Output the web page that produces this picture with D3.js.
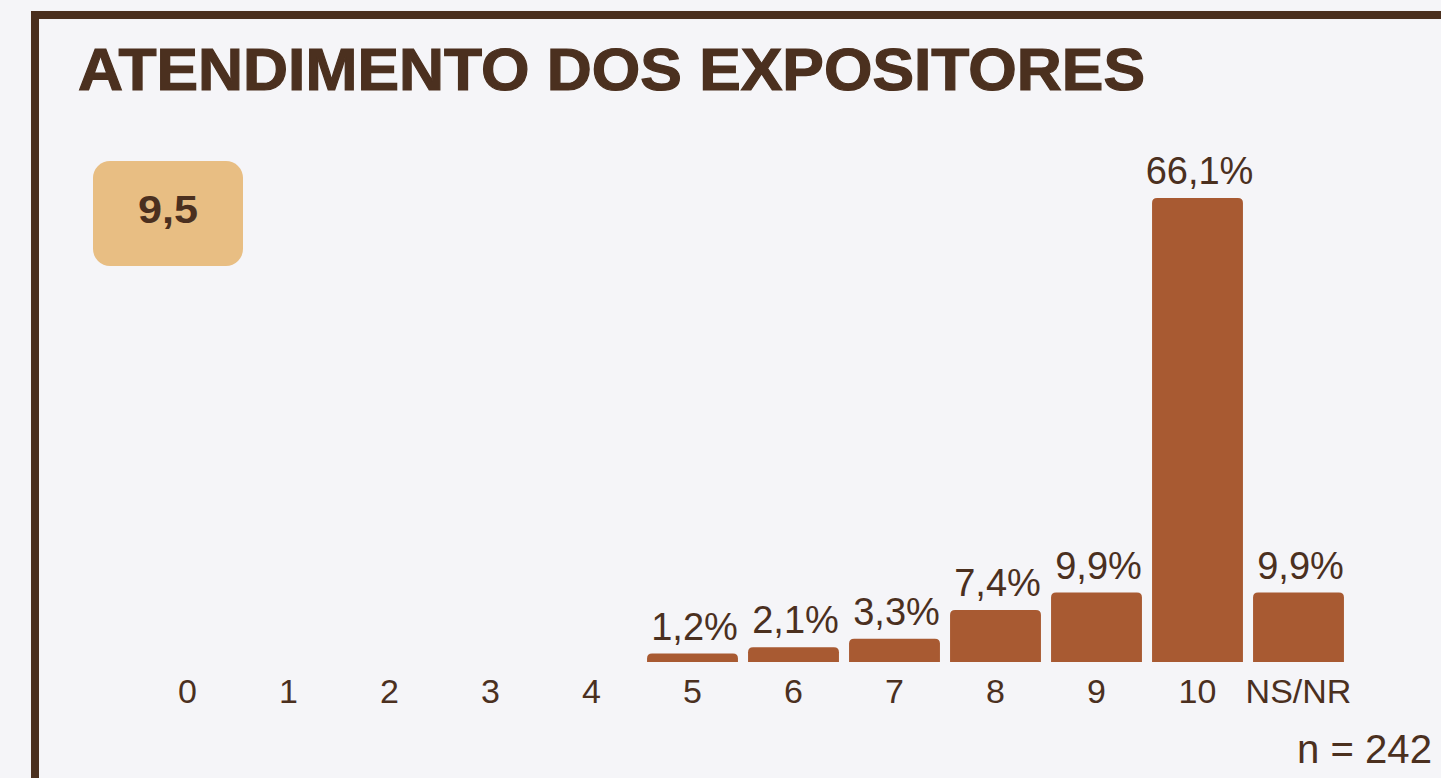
<!DOCTYPE html>
<html><head><meta charset="utf-8">
<script src="https://cdn.jsdelivr.net/npm/d3@7"></script>
<style>
html,body{margin:0;padding:0;background:#f5f5f8;overflow:hidden;}
svg{display:block;}
text{font-family:"Liberation Sans",Arial,sans-serif;fill:#4b301f;}
</style></head>
<body>
<svg id="c" width="1441" height="778"></svg>
<script>
const categories = ["0","1","2","3","4","5","6","7","8","9","10","NS/NR"];
const values = [null,null,null,null,null,1.2,2.1,3.3,7.4,9.9,66.1,9.9];
const valueLabels = [null,null,null,null,null,"1,2%","2,1%","3,3%","7,4%","9,9%","66,1%","9,9%"];
const title = "ATENDIMENTO DOS EXPOSITORES";
const average = "9,5";
const sampleNote = "n = 242";

const svg = d3.select("#c");
const W = 1441, H = 778;
const textColor = "#4b301f";
const barColor = "#a85a32";

svg.append("rect").attr("width",W).attr("height",H).attr("fill","#f5f5f8");
// frame
svg.append("rect").attr("x",35).attr("y",15).attr("width",1500).attr("height",900)
  .attr("fill","none").attr("stroke","#4b301f").attr("stroke-width",8);

svg.append("text").attr("x",78).attr("y",90).attr("font-size",60).attr("font-weight","bold")
  .attr("stroke","#4b301f").attr("stroke-width",1.2)
  .attr("textLength",1067).attr("lengthAdjust","spacingAndGlyphs").text(title);

// badge
svg.append("rect").attr("x",93).attr("y",161).attr("width",150).attr("height",105)
  .attr("rx",17).attr("fill","#e8be83");
svg.append("text").attr("x",168).attr("y",223).attr("text-anchor","middle")
  .attr("font-size",39).attr("font-weight","bold").attr("textLength",60)
  .attr("lengthAdjust","spacingAndGlyphs").text(average);

const x = d3.scaleBand().domain(categories).range([137,1349]).paddingInner(0.1).paddingOuter(0.05);
const y = d3.scaleLinear().domain([0,66.1]).range([662,198]);

const data = categories.map((c,i)=>({c, v:values[i], l:valueLabels[i]}));
const r = 5;
svg.append("g").selectAll("path").data(data.filter(d=>d.v!=null)).join("path")
  .attr("fill",barColor)
  .attr("d",d=>{
    const x0 = x(d.c), w = x.bandwidth(), y0 = y(d.v), b = y(0);
    const rr = Math.min(r,(b-y0));
    return `M${x0},${b}V${y0+rr}Q${x0},${y0} ${x0+rr},${y0}H${x0+w-rr}Q${x0+w},${y0} ${x0+w},${y0+rr}V${b}Z`;
  });

svg.append("g").selectAll("text").data(data.filter(d=>d.v!=null)).join("text")
  .attr("x",d=>x(d.c)+x.bandwidth()/2+2).attr("y",d=>y(d.v)-14)
  .attr("text-anchor","middle").attr("font-size",38).text(d=>d.l);

const axis = d3.axisBottom(x).tickSize(0).tickPadding(0);
const g = svg.append("g").attr("transform","translate(0,662)").call(axis);
g.select(".domain").remove();
g.selectAll("text").attr("font-size",34).attr("dy",null).attr("y",41)
  .style("font-family",'"Liberation Sans",Arial,sans-serif').attr("fill",textColor);

svg.append("text").attr("x",1432).attr("y",763).attr("text-anchor","end")
  .attr("font-size",40).attr("textLength",135).attr("lengthAdjust","spacingAndGlyphs").text(sampleNote);
</script>
</body></html>
